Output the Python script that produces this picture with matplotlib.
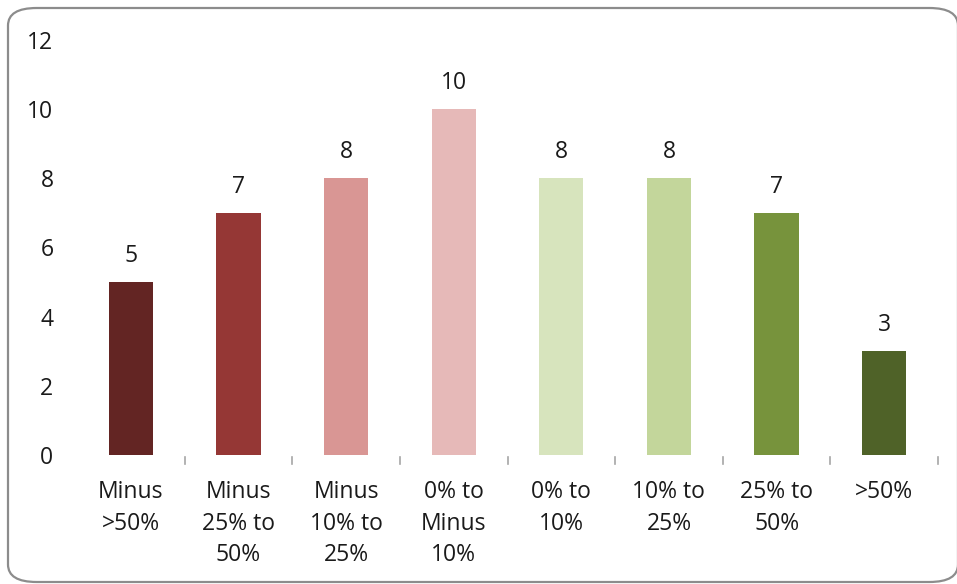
import matplotlib.pyplot as plt
from matplotlib.patches import FancyBboxPatch

# Distribution of counts by change band
categories = [
    "Minus\n>50%",
    "Minus\n25% to\n50%",
    "Minus\n10% to\n25%",
    "0% to\nMinus\n10%",
    "0% to\n10%",
    "10% to\n25%",
    "25% to\n50%",
    ">50%",
]
counts = [5, 7, 8, 10, 8, 8, 7, 3]
bar_colors = [
    "#632523", "#953735", "#d99694", "#e6b9b8",
    "#d7e4bd", "#c3d69b", "#77933c", "#4f6228",
]
y_ticks = [0, 2, 4, 6, 8, 10, 12]

plt.rcParams["font.family"] = ["Open Sans", "DejaVu Sans"]
W, H = 957, 584
fig = plt.figure(figsize=(W / 100, H / 100), dpi=100, facecolor="white")

# rounded outer frame
frame = FancyBboxPatch(
    (8 / W, 2 / H), (958 - 8) / W, (576 - 2) / H,
    boxstyle="round,pad=0,rounding_size=0.03",
    transform=fig.transFigure, facecolor="none",
    edgecolor="#8c8c8c", linewidth=1.6, zorder=-1,
)
fig.patches.append(frame)

ax = fig.add_axes([77 / W, (H - 455) / H, (938 - 77) / W, (455 - 40) / H])
ax.patch.set_alpha(0)

fs = 16.5
x = range(len(categories))
bars = ax.bar(x, counts, width=0.41, color=bar_colors, zorder=2)
for xi, v in zip(x, counts):
    ax.annotate(str(v), (xi, v), xytext=(0, 10), textcoords="offset points",
                ha="center", va="bottom", fontsize=fs, color="#1a1a1a")

ax.set_xlim(-0.5, len(categories) - 0.5)
ax.set_ylim(0, 12)
ax.set_yticks(y_ticks)
ax.tick_params(axis="y", length=0, pad=17, labelsize=fs, labelcolor="#1a1a1a")

# category labels below, separators at category boundaries
ax.set_xticks(list(x))
ax.set_xticklabels(categories, fontsize=fs, color="#1a1a1a", linespacing=1.42, va="top")
ax.tick_params(axis="x", length=0, pad=18)
for b in range(1, len(categories) + 1):
    ax.plot([b - 0.5, b - 0.5], [-0.05, -0.25], color="#a6a6a6", lw=1.2,
            clip_on=False, zorder=1)

for s in ax.spines.values():
    s.set_visible(False)

fig.savefig("out.png", dpi=100)
